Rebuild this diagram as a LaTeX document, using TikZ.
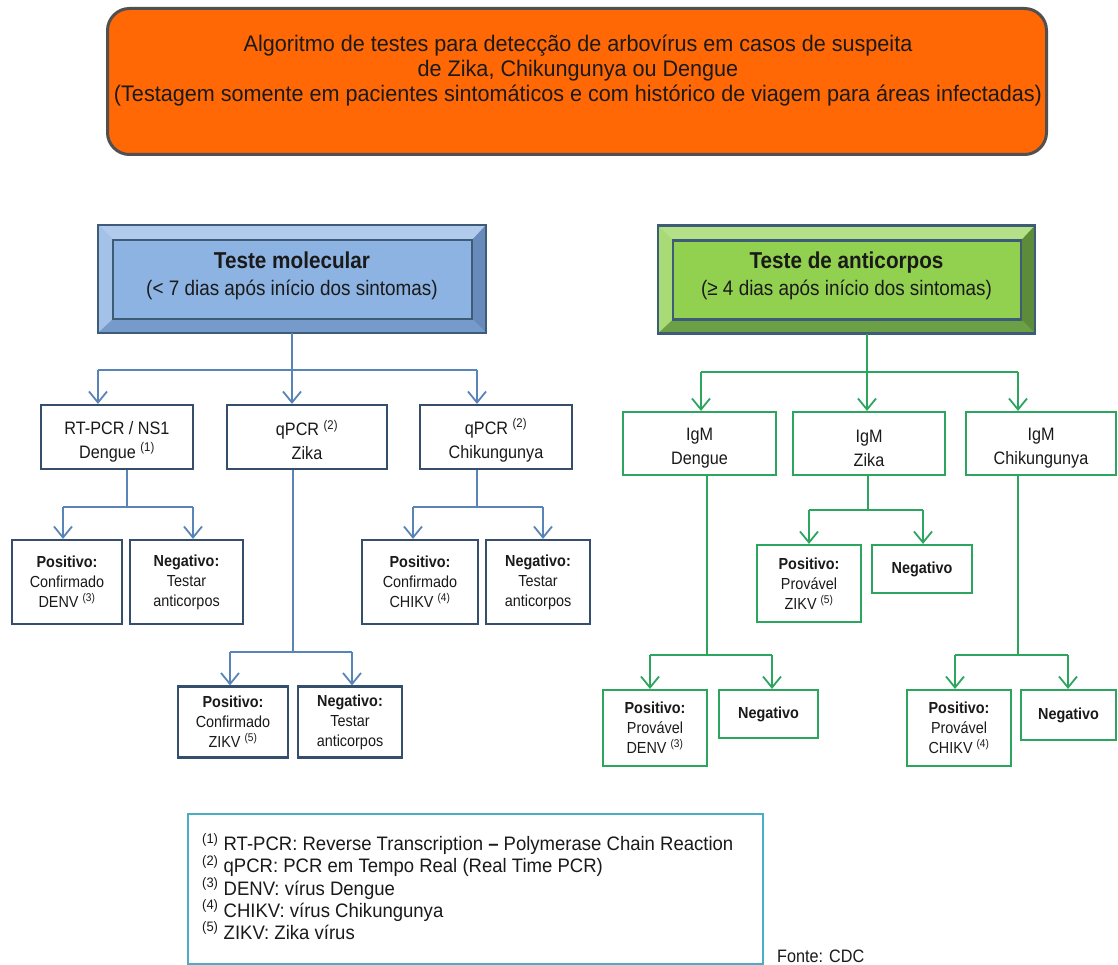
\documentclass[tikz,border=0pt]{standalone}
\usepackage{fontspec}
\setmainfont{Liberation Sans}[FakeStretch=0.9]
\newfontfamily\ttlfont{Liberation Sans}[FakeStretch=0.96]
\newfontfamily\fnfont{Liberation Sans}[FakeStretch=0.95]
\usetikzlibrary{arrows.meta,calc}
\definecolor{orangefill}{RGB}{255,104,4}
\definecolor{orangeborder}{RGB}{80,80,80}
\definecolor{hborder}{RGB}{62,92,120}
\definecolor{bluefill}{RGB}{141,179,226}
\definecolor{bluetop}{RGB}{178,203,236}
\definecolor{blueleft}{RGB}{164,194,232}
\definecolor{blueright}{RGB}{104,138,186}
\definecolor{bluebot}{RGB}{118,154,202}
\definecolor{greenfill}{RGB}{146,208,80}
\definecolor{greentop}{RGB}{180,225,135}
\definecolor{greenleft}{RGB}{168,219,118}
\definecolor{greenright}{RGB}{92,140,58}
\definecolor{greenbot}{RGB}{108,160,70}
\definecolor{blueline}{RGB}{88,132,184}
\definecolor{navy}{RGB}{52,78,108}
\definecolor{gline}{RGB}{44,166,94}
\definecolor{fnborder}{RGB}{75,172,198}
\definecolor{txt}{RGB}{26,26,26}
\newcommand\mystrut{\rule{0pt}{22pt}}
\newcommand\mybevel[5]{%
  \fill[#2] (#1.north west) -- (#1.north east) -- ($(#1.north east)+(-14,15)$) -- ($(#1.north west)+(15,15)$) -- cycle;
  \fill[#3] (#1.north west) -- ($(#1.north west)+(15,15)$) -- ($(#1.south west)+(15,-14)$) -- (#1.south west) -- cycle;
  \fill[#4] (#1.north east) -- ($(#1.north east)+(-14,15)$) -- ($(#1.south east)+(-14,-14)$) -- (#1.south east) -- cycle;
  \fill[#5] (#1.south west) -- ($(#1.south west)+(15,-14)$) -- ($(#1.south east)+(-14,-14)$) -- (#1.south east) -- cycle;
  \draw[hborder, line width=2.2pt] ($(#1.north west)+(15,15)$) rectangle ($(#1.south east)+(-14,-14)$);
  \draw[hborder, line width=2.6pt] (#1.north west) rectangle (#1.south east);
}
\begin{document}
\begin{tikzpicture}[x=1pt,y=-1pt,
  bl/.style={draw=blueline, line width=1.8pt},
  ba/.style={bl, -{Straight Barb[length=11pt,width=18pt]}},
  gl/.style={draw=gline, line width=1.8pt},
  ga/.style={gl, -{Straight Barb[length=11pt,width=18pt]}},
  hdr/.style={inner sep=0pt, outer sep=0pt, align=center, text=txt, font=\fontsize{21}{27}\selectfont},
  mb/.style={draw=navy, line width=2.2pt, fill=white, align=center, inner sep=0pt, text=txt,
             font=\fontsize{18}{24}\selectfont},
  sb/.style={mb, font=\fontsize{16}{20}\selectfont},
  gm/.style={mb, draw=gline},
  gs/.style={sb, draw=gline}]
\useasboundingbox (0,0) rectangle (1118,965);
\fill[white] (0,0) rectangle (1118,965);

% title
\node[draw=orangeborder, line width=3pt, fill=orangefill, rounded corners=22pt,
      minimum width=939pt, minimum height=146pt, inner sep=0pt] (ttl) at (577,81.5) {};
\node[align=center, text=txt, font=\ttlfont\fontsize{22.5}{25}\selectfont] (ttltext) at (578,71)
  {Algoritmo de testes para detecção de arbovírus em casos de suspeita\\
   de Zika, Chikungunya ou Dengue\\
   (Testagem somente em pacientes sintomáticos e com histórico de viagem para áreas infectadas)};

% headers
\node[hdr, fill=bluefill, minimum width=388pt, minimum height=108pt] (tm) at (292,279) {};
\mybevel{tm}{bluetop}{blueleft}{blueright}{bluebot}
\node[hdr, fill=greenfill, minimum width=377pt, minimum height=108pt] (ta) at (846.5,279.5) {};
\mybevel{ta}{greentop}{greenleft}{greenright}{greenbot}
\node[hdr] (tmtext) at (292,276) {{\fontsize{23}{27}\selectfont\bfseries Teste molecular}\\(< 7 dias após início dos sintomas)};
\node[hdr] (tatext) at (846.5,276) {{\fontsize{23}{27}\selectfont\bfseries Teste de anticorpos}\\(≥ 4 dias após início dos sintomas)};

% level 2 blue
\node[mb, minimum width=152pt, minimum height=64pt] (rt) at (117,437) {\mystrut RT-PCR / NS1\\Dengue \textsuperscript{(1)}};
\node[mb, minimum width=160pt, minimum height=64pt] (qz) at (307,437) {\mystrut qPCR \textsuperscript{(2)}\\Zika};
\node[mb, minimum width=152pt, minimum height=64pt] (qc) at (496,437) {\mystrut qPCR \textsuperscript{(2)}\\Chikungunya};

% level 3 blue
\node[sb, minimum width=110pt, minimum height=84pt] (pd) at (67,582) {\textbf{Positivo:}\\Confirmado\\DENV \textsuperscript{(3)}};
\node[sb, minimum width=113pt, minimum height=84pt] (nd) at (186.5,582) {\textbf{Negativo:}\\Testar\\anticorpos};
\node[sb, minimum width=116pt, minimum height=84pt] (pc) at (420,582) {\textbf{Positivo:}\\Confirmado\\CHIKV \textsuperscript{(4)}};
\node[sb, minimum width=104pt, minimum height=84pt] (nc) at (538,582) {\textbf{Negativo:}\\Testar\\anticorpos};
\node[sb, minimum width=110pt, minimum height=71pt] (pz) at (233,722) {\textbf{Positivo:}\\Confirmado\\ZIKV \textsuperscript{(5)}};
\node[sb, minimum width=104pt, minimum height=71pt] (nz) at (350,722) {\textbf{Negativo:}\\Testar\\anticorpos};

% level 2 green
\node[gm, minimum width=153pt, minimum height=63pt] (id) at (699.5,443.5) {\mystrut IgM\\Dengue};
\node[gm, minimum width=152pt, minimum height=63pt] (iz) at (869,443.5) {\mystrut IgM\\Zika};
\node[gm, minimum width=150pt, minimum height=63pt] (ic) at (1041,443.5) {\mystrut IgM\\Chikungunya};

% level 3 green
\node[gs, minimum width=104pt, minimum height=77pt] (gpz) at (809,583.5) {\textbf{Positivo:}\\Provável\\ZIKV \textsuperscript{(5)}};
\node[gs, minimum width=100pt, minimum height=48pt] (gnz) at (922,569) {\textbf{Negativo}};
\node[gs, minimum width=104pt, minimum height=76pt] (gpd) at (655,728) {\textbf{Positivo:}\\Provável\\DENV \textsuperscript{(3)}};
\node[gs, minimum width=99pt, minimum height=48pt] (gnd) at (768.5,714) {\textbf{Negativo}};
\node[gs, minimum width=104pt, minimum height=76pt] (gpc) at (959,728) {\textbf{Positivo:}\\Provável\\CHIKV \textsuperscript{(4)}};
\node[gs, minimum width=95pt, minimum height=50pt] (gnc) at (1068.5,715) {\textbf{Negativo}};

% blue connectors
\coordinate (bj) at (292,370);
\coordinate (ba1) at (98,370);
\coordinate (ba2) at (292,370);
\coordinate (ba3) at (477,370);
\draw[bl] (tm.south) -- (bj);
\draw[bl] (ba1) -- (ba3);
\draw[ba] (ba1) -- (ba1 |- rt.north);
\draw[ba] (ba2) -- (ba2 |- qz.north);
\draw[ba] (ba3) -- (ba3 |- qc.north);

\coordinate (rs) at (127,507);
\coordinate (ra1) at (63,507);
\coordinate (ra2) at (193,507);
\draw[bl] (rs |- rt.south) -- (rs);
\draw[bl] (ra1) -- (ra2);
\draw[ba] (ra1) -- (ra1 |- pd.north);
\draw[ba] (ra2) -- (ra2 |- nd.north);

\coordinate (zs) at (293,652);
\coordinate (za1) at (230,652);
\coordinate (za2) at (352,652);
\draw[bl] (zs |- qz.south) -- (zs);
\draw[bl] (za1) -- (za2);
\draw[ba] (za1) -- (za1 |- pz.north);
\draw[ba] (za2) -- (za2 |- nz.north);

\coordinate (cs) at (477,507);
\coordinate (ca1) at (413,507);
\coordinate (ca2) at (543,507);
\draw[bl] (cs |- qc.south) -- (cs);
\draw[bl] (ca1) -- (ca2);
\draw[ba] (ca1) -- (ca1 |- pc.north);
\draw[ba] (ca2) -- (ca2 |- nc.north);

% green connectors
\coordinate (gj) at (867,372);
\coordinate (ga1) at (701,372);
\coordinate (ga3) at (1018,372);
\draw[gl] (gj |- ta.south) -- (gj);
\draw[gl] (ga1) -- (ga3);
\draw[ga] (ga1) -- (ga1 |- id.north);
\draw[ga] (gj) -- (gj |- iz.north);
\draw[ga] (ga3) -- (ga3 |- ic.north);

\coordinate (gzs) at (868,510);
\coordinate (gza1) at (809,510);
\coordinate (gza2) at (923,510);
\draw[gl] (gzs |- iz.south) -- (gzs);
\draw[gl] (gza1) -- (gza2);
\draw[ga] (gza1) -- (gza1 |- gpz.north);
\draw[ga] (gza2) -- (gza2 |- gnz.north);

\coordinate (gds) at (707,655);
\coordinate (gda1) at (650,655);
\coordinate (gda2) at (772,655);
\draw[gl] (gds |- id.south) -- (gds);
\draw[gl] (gda1) -- (gda2);
\draw[ga] (gda1) -- (gda1 |- gpd.north);
\draw[ga] (gda2) -- (gda2 |- gnd.north);

\coordinate (gcs) at (1018,655);
\coordinate (gca1) at (955,655);
\coordinate (gca2) at (1068,655);
\draw[gl] (gcs |- ic.south) -- (gcs);
\draw[gl] (gca1) -- (gca2);
\draw[ga] (gca1) -- (gca1 |- gpc.north);
\draw[ga] (gca2) -- (gca2 |- gnc.north);

% footnotes
\node[draw=fnborder, line width=2pt, minimum width=575pt, minimum height=150pt, inner sep=0pt] (fn) at (475.5,888.5) {};
\node[anchor=north west, align=left, inner sep=0pt, text=txt, font=\fnfont\fontsize{19.5}{22.2}\selectfont] (fntext) at (202,833)
  {\textsuperscript{(1)} RT-PCR: Reverse Transcription \textbf{–} Polymerase Chain Reaction\\
   \textsuperscript{(2)} qPCR: PCR em Tempo Real (Real Time PCR)\\
   \textsuperscript{(3)} DENV: vírus Dengue\\
   \textsuperscript{(4)} CHIKV: vírus Chikungunya\\
   \textsuperscript{(5)} ZIKV: Zika vírus};
\node[anchor=base west, inner sep=0pt, text=txt, font=\fontsize{18}{20}\selectfont] (src) at (777,962) {Fonte: CDC};
\end{tikzpicture}
\end{document}
